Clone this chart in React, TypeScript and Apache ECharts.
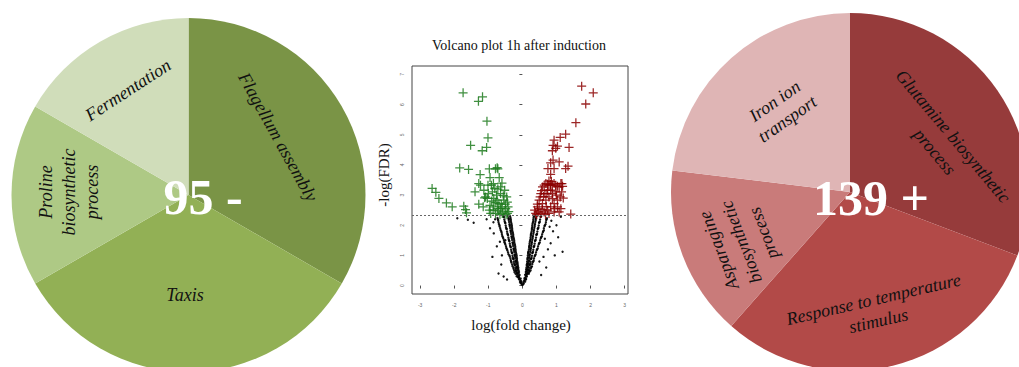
import React, { useEffect, useRef } from "react";
import * as echarts from "echarts";

// ---------- Data ----------
const leftCategories = ["Flagellum assembly", "Taxis", "Proline biosynthetic process", "Fermentation"];
const leftValues = [2, 2, 1, 1];
const leftColors = ["#7A9446", "#92B055", "#AEC985", "#D0DDBA"];
const leftLabelText = ["Flagellum assembly", "Taxis", "Proline\nbiosynthetic\nprocess", "Fermentation"];
const leftCenterText = "95 -";

const rightCategories = ["Glutamine biosynthetic process", "Response to temperature stimulus", "Asparagine biosynthetic process", "Iron ion transport"];
const rightValues = [4, 4, 2, 3];
const rightColors = ["#963B3B", "#B24A48", "#C97B7A", "#DFB5B5"];
const rightLabelText = ["Glutamine biosynthetic\nprocess", "Response to temperature\nstimulus", "Asparagine\nbiosynthetic\nprocess", "Iron ion\ntransport"];
const rightCenterText = "139 +";

const volcanoTitle = "Volcano plot 1h after induction";
const xAxisTitle = "log(fold change)";
const yAxisTitle = "-log(FDR)";
const xTicks = [-3, -2, -1, 0, 1, 2, 3];
const yTicks = [0, 1, 2, 3, 4, 5, 6, 7];
const fdrThreshold = 2.33;

const downGenes: number[][] = [
  [-1.74, 6.39], [-1.29, 6.11], [-1.17, 6.26], [-1.04, 5.45], [-1.01, 4.9], [-1.52, 4.65], [-1.05, 4.58], [-1.18, 4.47],
  [-1.84, 3.9], [-1.58, 3.85], [-1.24, 3.68], [-0.97, 3.87], [-0.79, 3.87], [-0.72, 3.87], [-2.65, 3.22], [-2.54, 3.09],
  [-2.45, 2.89], [-2.23, 2.74], [-2.06, 2.61], [-1.72, 2.63], [-1.67, 2.52], [-1.64, 2.41], [-1.39, 3.11], [-1.28, 2.7],
  [-1.23, 3.33], [-1.11, 2.91], [-0.74, 3.91], [-0.95, 3.58], [-0.91, 3.33], [-0.85, 3.38], [-0.68, 3.58], [-0.64, 3.27],
  [-1.01, 3.33], [-1.08, 2.94], [-1.03, 2.89], [-0.95, 2.66], [-0.84, 2.61], [-0.74, 2.83], [-0.64, 3.05], [-0.54, 2.83],
  [-0.49, 2.55], [-0.44, 2.39], [-0.59, 2.39], [-0.79, 2.39], [-0.93, 2.39], [-0.52, 3.16], [-0.46, 2.94], [-0.69, 2.72],
  [-0.64, 2.55], [-0.76, 3.0], [-0.88, 3.11], [-1.13, 3.16], [-1.28, 3.38], [-1.15, 2.61], [-0.81, 3.22], [-0.59, 2.61],
  [-0.42, 2.61], [-0.44, 2.77], [-0.54, 2.44], [-0.84, 2.89], [-0.7, 2.48], [-0.62, 2.7], [-0.56, 2.98], [-0.5, 2.7],
  [-0.4, 2.45], [-0.48, 2.35], [-0.66, 2.35], [-0.73, 2.55], [-0.86, 2.5], [-0.78, 2.75], [-0.6, 3.4], [-0.72, 3.2],
  [-1.0, 3.05], [-0.9, 2.8], [-0.97, 2.5],
];

const upGenes: number[][] = [
  [1.74, 6.61], [2.08, 6.39], [1.86, 6.02], [1.57, 5.4], [1.27, 5.02], [1.11, 4.91], [0.93, 4.82], [0.9, 4.65],
  [1.03, 4.62], [0.88, 4.47], [0.98, 4.55], [1.37, 4.58], [0.9, 4.16], [1.08, 4.1], [0.83, 4.07], [0.75, 3.88],
  [0.93, 3.88], [1.27, 3.88], [1.34, 3.96], [0.83, 3.69], [0.78, 3.47], [1.16, 3.38], [1.42, 2.37],
  [0.39, 2.39], [0.44, 2.61], [0.49, 2.83], [0.54, 3.05], [0.59, 3.27], [0.64, 3.33], [0.69, 3.38], [0.74, 3.36],
  [0.78, 3.33], [0.83, 3.35], [0.88, 3.33], [0.93, 3.38], [0.98, 3.33], [1.03, 3.29], [1.08, 3.27], [1.13, 3.38],
  [1.18, 3.29], [1.15, 3.11], [1.11, 2.94], [1.03, 2.83], [0.93, 2.72], [0.83, 2.61], [0.74, 2.5], [0.64, 2.44],
  [0.54, 2.39], [0.49, 2.55], [0.59, 2.72], [0.69, 2.83], [0.78, 2.94], [0.88, 3.05], [0.98, 3.11], [1.03, 2.61],
  [1.08, 2.44], [0.93, 2.44], [0.78, 2.39], [0.66, 3.05], [0.74, 3.16], [0.83, 3.16], [0.52, 2.94], [0.46, 2.44],
  [0.36, 2.5], [0.42, 2.35], [0.58, 2.52], [0.7, 2.62], [0.88, 2.88], [1.0, 3.0], [0.62, 2.95], [0.56, 3.15],
  [0.72, 3.05], [0.95, 2.55], [1.13, 2.55], [1.2, 2.9], [0.85, 3.45], [0.68, 2.35], [0.44, 2.7],
];

const otherGenes: number[][] = [
  [-0.02, 0.05], [0.02, 0.04], [-0.05, 0.08], [0.04, 0.07], [0.0, 0.02],
  [-0.03, 0.1], [0.03, 0.11], [-0.07, 0.12],
  [-0.06, 0.15], [-0.03, 0.14], [0.05, 0.16], [0.08, 0.13],
  [-0.07, 0.2], [0.07, 0.19], [-0.1, 0.21], [0.1, 0.2],
  [-0.09, 0.25], [-0.05, 0.23], [-0.12, 0.27], [0.06, 0.24], [0.09, 0.26], [0.11, 0.22],
  [-0.1, 0.3], [0.1, 0.31], [-0.13, 0.29], [0.13, 0.3], [-0.17, 0.31],
  [-0.08, 0.35], [-0.12, 0.33], [-0.15, 0.37], [0.08, 0.36], [0.12, 0.34], [0.14, 0.38],
  [-0.11, 0.4], [-0.16, 0.41], [-0.2, 0.39], [0.11, 0.4], [0.15, 0.41], [0.19, 0.39],
  [-0.1, 0.45], [-0.14, 0.43], [-0.18, 0.46], [-0.23, 0.44], [0.1, 0.45], [0.13, 0.47], [0.17, 0.43], [0.21, 0.46],
  [-0.11, 0.5], [-0.15, 0.51], [-0.19, 0.49], [-0.24, 0.5], [0.12, 0.5], [0.16, 0.51], [0.2, 0.49], [0.24, 0.5],
  [-0.12, 0.55], [-0.16, 0.57], [-0.2, 0.53], [-0.26, 0.56], [0.11, 0.54], [0.15, 0.56], [0.19, 0.52], [0.25, 0.57],
  [-0.12, 0.6], [-0.16, 0.61], [-0.2, 0.59], [-0.26, 0.6], [0.12, 0.6], [0.16, 0.61], [0.2, 0.59], [0.26, 0.62],
  [-0.13, 0.65], [-0.17, 0.63], [-0.22, 0.67], [-0.29, 0.64], [0.13, 0.66], [0.17, 0.64], [0.21, 0.68], [0.28, 0.63],
  [-0.14, 0.7], [-0.18, 0.71], [-0.23, 0.69], [-0.3, 0.7], [0.13, 0.7], [0.17, 0.71], [0.22, 0.69], [0.29, 0.71],
  [-0.14, 0.75], [-0.19, 0.77], [-0.24, 0.73], [-0.32, 0.76], [0.14, 0.74], [0.18, 0.76], [0.23, 0.72], [0.3, 0.77],
  [-0.15, 0.8], [-0.19, 0.81], [-0.25, 0.79], [-0.33, 0.8], [0.14, 0.8], [0.19, 0.81], [0.24, 0.79], [0.32, 0.8],
  [-0.16, 0.85], [-0.2, 0.83], [-0.26, 0.87], [-0.34, 0.84], [0.15, 0.86], [0.2, 0.84], [0.25, 0.88], [0.33, 0.83],
  [-0.16, 0.9], [-0.21, 0.91], [-0.27, 0.89], [-0.35, 0.9], [0.15, 0.9], [0.2, 0.91], [0.26, 0.89], [0.34, 0.9],
  [-0.17, 0.95], [-0.22, 0.97], [-0.28, 0.93], [-0.37, 0.96], [0.16, 0.94], [0.21, 0.96], [0.27, 0.92], [0.36, 0.97],
  [-0.17, 1.0], [-0.22, 1.01], [-0.29, 0.99], [-0.38, 1.0], [0.16, 1.0], [0.21, 1.01], [0.28, 0.99], [0.37, 1.0],
  [-0.18, 1.05], [-0.23, 1.03], [-0.3, 1.07], [-0.41, 1.04], [0.17, 1.06], [0.22, 1.04], [0.29, 1.08], [0.39, 1.03],
  [-0.19, 1.1], [-0.24, 1.11], [-0.31, 1.09], [-0.42, 1.1], [0.17, 1.1], [0.23, 1.11], [0.3, 1.09], [0.4, 1.1],
  [-0.2, 1.15], [-0.25, 1.17], [-0.32, 1.13], [-0.44, 1.16], [0.18, 1.14], [0.24, 1.16], [0.31, 1.12], [0.42, 1.17],
  [-0.2, 1.2], [-0.25, 1.21], [-0.33, 1.19], [-0.45, 1.2], [0.19, 1.2], [0.24, 1.21], [0.32, 1.19], [0.43, 1.2],
  [-0.21, 1.25], [-0.26, 1.23], [-0.34, 1.27], [-0.47, 1.24], [0.2, 1.26], [0.25, 1.24], [0.33, 1.28], [0.45, 1.23],
  [-0.21, 1.3], [-0.27, 1.31], [-0.35, 1.29], [-0.48, 1.3], [0.2, 1.3], [0.26, 1.31], [0.34, 1.29], [0.46, 1.3],
  [-0.22, 1.35], [-0.28, 1.37], [-0.36, 1.33], [-0.5, 1.36], [0.21, 1.34], [0.27, 1.36], [0.35, 1.32], [0.48, 1.37],
  [-0.23, 1.4], [-0.28, 1.41], [-0.37, 1.39], [-0.51, 1.4], [0.21, 1.4], [0.27, 1.41], [0.36, 1.39], [0.49, 1.4],
  [-0.24, 1.45], [-0.29, 1.43], [-0.38, 1.47], [-0.53, 1.44], [0.22, 1.46], [0.28, 1.44], [0.37, 1.48], [0.51, 1.43],
  [-0.24, 1.5], [-0.3, 1.51], [-0.39, 1.49], [-0.54, 1.5], [0.23, 1.5], [0.29, 1.51], [0.38, 1.49], [0.52, 1.5],
  [-0.25, 1.55], [-0.31, 1.57], [-0.4, 1.53], [-0.56, 1.56], [0.24, 1.54], [0.3, 1.56], [0.39, 1.52], [0.54, 1.57],
  [-0.26, 1.6], [-0.31, 1.61], [-0.41, 1.59], [-0.57, 1.6], [0.24, 1.6], [0.3, 1.61], [0.4, 1.59], [0.55, 1.6],
  [-0.27, 1.65], [-0.32, 1.63], [-0.42, 1.67], [-0.59, 1.64], [0.25, 1.66], [0.31, 1.64], [0.41, 1.68], [0.57, 1.63],
  [-0.27, 1.7], [-0.33, 1.71], [-0.43, 1.69], [-0.6, 1.7], [0.25, 1.7], [0.32, 1.71], [0.42, 1.69], [0.58, 1.7],
  [-0.28, 1.75], [-0.34, 1.77], [-0.44, 1.73], [-0.61, 1.76], [0.26, 1.74], [0.33, 1.76], [0.43, 1.72], [0.6, 1.77],
  [-0.29, 1.8], [-0.34, 1.81], [-0.45, 1.79], [-0.62, 1.8], [0.27, 1.8], [0.33, 1.81], [0.44, 1.79], [0.61, 1.8],
  [-0.3, 1.85], [-0.35, 1.83], [-0.46, 1.87], [-0.64, 1.84], [0.28, 1.86], [0.34, 1.84], [0.45, 1.88], [0.63, 1.83],
  [-0.3, 1.9], [-0.36, 1.91], [-0.47, 1.89], [-0.65, 1.9], [0.28, 1.9], [0.35, 1.91], [0.46, 1.89], [0.63, 1.9],
  [-0.31, 1.95], [-0.37, 1.97], [-0.48, 1.93], [-0.67, 1.96], [0.29, 1.94], [0.36, 1.96], [0.47, 1.92], [0.65, 1.97],
  [-0.31, 2.0], [-0.37, 2.01], [-0.49, 1.99], [-0.67, 2.0], [0.29, 2.0], [0.36, 2.01], [0.48, 1.99], [0.66, 2.0],
  [-0.32, 2.05], [-0.38, 2.03], [-0.5, 2.07], [-0.69, 2.04], [0.3, 2.06], [0.37, 2.04], [0.49, 2.08], [0.68, 2.03],
  [-0.33, 2.1], [-0.39, 2.11], [-0.51, 2.09], [-0.7, 2.1], [0.31, 2.1], [0.38, 2.11], [0.5, 2.09], [0.69, 2.1],
  [-0.34, 2.15], [-0.4, 2.17], [-0.52, 2.13], [-0.71, 2.16], [0.32, 2.14], [0.39, 2.16], [0.51, 2.12], [0.7, 2.17],
  [-0.34, 2.2], [-0.4, 2.21], [-0.53, 2.19], [-0.72, 2.2], [0.32, 2.2], [0.39, 2.21], [0.52, 2.19], [0.71, 2.2],
  [-0.35, 2.25], [-0.41, 2.23], [-0.54, 2.27], [-0.73, 2.24], [0.33, 2.26], [0.4, 2.24], [0.53, 2.28], [0.72, 2.23],
  [-0.36, 2.3], [-0.43, 2.31], [-0.56, 2.29], [0.34, 2.3], [0.42, 2.31], [0.55, 2.29],
  [-0.88, 0.95], [-0.62, 0.7], [-0.75, 1.3], [-0.84, 1.73], [-0.95, 1.9], [-1.91, 2.23], [-1.43, 2.08], [-1.6, 2.18],
  [-1.05, 2.2], [-0.7, 0.4], [-0.55, 0.3], [0.83, 1.4], [1.18, 1.12], [1.13, 2.28], [0.9, 1.8], [1.0, 2.0],
  [0.7, 0.6], [0.55, 0.35], [0.95, 1.0], [-0.45, 0.2], [0.5, 0.8], [-0.6, 1.0], [0.75, 1.2], [0.62, 0.95],
  [-0.85, 2.1], [0.85, 2.15], [1.05, 1.6], [-0.5, 1.5], [-0.66, 1.45], [0.66, 1.55], [-0.8, 2.2], [0.8, 1.95],
];

const plusSymbol = "path://M4.3,0 H5.7 V4.3 H10 V5.7 H5.7 V10 H4.3 V5.7 H0 V4.3 H4.3 Z";
const serif = "'Liberation Serif', 'Times New Roman', serif";

function labelText(text: string, x: number, y: number, deg: number, size = 18, lh = 23) {
  return {
    type: "text",
    x,
    y,
    rotation: (deg * Math.PI) / 180,
    z: 100,
    silent: true,
    style: {
      text,
      font: `italic ${size}px ${serif}`,
      fill: "#111",
      align: "center",
      verticalAlign: "middle",
      lineHeight: lh,
    },
  };
}

function bigText(text: string, x: number, y: number) {
  return {
    type: "text",
    x,
    y,
    z: 100,
    silent: true,
    style: {
      text,
      font: `bold 50px ${serif}`,
      fill: "#ffffff",
      align: "center",
      verticalAlign: "middle",
    },
  };
}

export default function App() {
  const ref = useRef<HTMLDivElement>(null);
  useEffect(() => {
    if (!ref.current) return;
    const chart = echarts.init(ref.current, null, { renderer: "svg" });
    const option: any = {
      animation: false,
      backgroundColor: "#ffffff",
      grid: {
        left: 412,
        top: 66,
        width: 216,
        height: 228,
        show: true,
        borderColor: "#444",
        borderWidth: 1,
        backgroundColor: "transparent",
      },
      xAxis: {
        type: "value",
        min: -3.24,
        max: 3.1,
        axisLine: { show: false },
        splitLine: { show: false },
        axisTick: { show: true, inside: false, length: 3, customValues: xTicks, lineStyle: { color: "#555" } },
        axisLabel: { customValues: xTicks, fontSize: 5, color: "#666", margin: 8, fontFamily: "Arial" },
      },
      yAxis: {
        type: "value",
        min: -0.28,
        max: 7.28,
        axisLine: { show: false },
        splitLine: { show: false },
        axisTick: { show: true, inside: false, length: 3, customValues: yTicks, lineStyle: { color: "#555" } },
        axisLabel: { customValues: yTicks, fontSize: 5, color: "#666", margin: 8, rotate: 90, fontFamily: "Arial" },
      },
      series: [
        {
          type: "pie",
          center: [188.5, 195],
          radius: 177,
          startAngle: 90,
          clockwise: true,
          silent: true,
          label: { show: false },
          labelLine: { show: false },
          itemStyle: { borderWidth: 0 },
          data: leftCategories.map((name, i) => ({
            name,
            value: leftValues[i],
            itemStyle: { color: leftColors[i] },
          })),
        },
        {
          type: "pie",
          center: [850, 192],
          radius: 179,
          startAngle: 90,
          clockwise: true,
          silent: true,
          label: { show: false },
          labelLine: { show: false },
          itemStyle: { borderWidth: 0 },
          data: rightCategories.map((name, i) => ({
            name,
            value: rightValues[i],
            itemStyle: { color: rightColors[i] },
          })),
        },
        {
          type: "scatter",
          data: otherGenes,
          symbol: "circle",
          symbolSize: 2.4,
          clip: false,
          silent: true,
          itemStyle: { color: "#000000", opacity: 0.9 },
          markLine: {
            silent: true,
            symbol: ["none", "none"],
            label: { show: false },
            lineStyle: { color: "#666", type: [2, 2], width: 1 },
            data: [{ yAxis: fdrThreshold }],
          },
        },
        {
          type: "scatter",
          data: downGenes,
          symbol: plusSymbol,
          symbolSize: 9,
          clip: false,
          silent: true,
          itemStyle: { color: "#1E7B1E", opacity: 0.85 },
        },
        {
          type: "scatter",
          data: upGenes,
          symbol: plusSymbol,
          symbolSize: 9,
          clip: false,
          silent: true,
          itemStyle: { color: "#8B0000", opacity: 0.85 },
        },
      ],
      graphic: [
        labelText(leftLabelText[0], 278, 137, -61),
        labelText(leftLabelText[1], 185, 295, 0),
        labelText(leftLabelText[2], 69, 192, 90),
        labelText(leftLabelText[3], 128, 90, 33),
        bigText(leftCenterText, 203, 197),
        labelText(rightLabelText[0], 944, 144, -50, 18, 24),
        labelText(rightLabelText[1], 876, 310, 13, 18, 22),
        labelText(rightLabelText[2], 741, 242, 111, 18, 24),
        labelText(rightLabelText[3], 781, 110, 35, 18, 22),
        bigText(rightCenterText, 871, 198),
        {
          type: "text",
          x: 519,
          y: 45,
          z: 100,
          silent: true,
          style: { text: volcanoTitle, font: `14px ${serif}`, fill: "#111", align: "center", verticalAlign: "middle" },
        },
        {
          type: "text",
          x: 521,
          y: 325,
          z: 100,
          silent: true,
          style: { text: xAxisTitle, font: `15px ${serif}`, fill: "#111", align: "center", verticalAlign: "middle" },
        },
        {
          type: "text",
          x: 384,
          y: 175,
          rotation: Math.PI / 2,
          z: 100,
          silent: true,
          style: { text: yAxisTitle, font: `15px ${serif}`, fill: "#111", align: "center", verticalAlign: "middle" },
        },
      ],
    };
    chart.setOption(option);
    return () => chart.dispose();
  }, []);
  return (
    <div
      ref={ref}
      style={{ position: "fixed", left: 0, top: 0, width: 1019, height: 367, background: "#fff" }}
    />
  );
}
